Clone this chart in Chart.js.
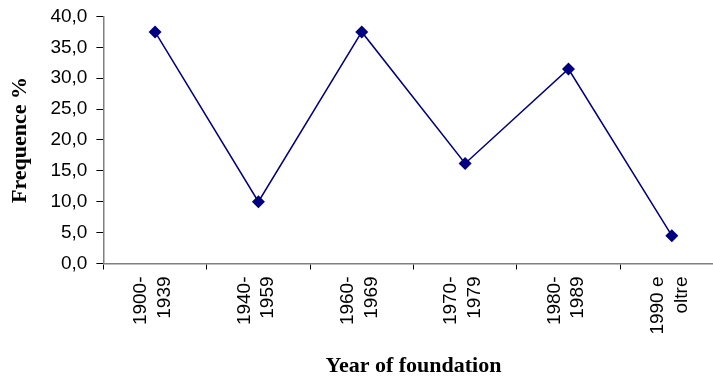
<!DOCTYPE html>
<html>
<head>
<meta charset="utf-8">
<script src="https://cdn.jsdelivr.net/npm/chart.js@4/dist/chart.umd.min.js"></script>
<style>
  html, body { margin: 0; padding: 0; background: #ffffff; overflow: hidden; }
  #wrap { position: relative; width: 730px; height: 380px; margin-top: -2px; }
</style>
</head>
<body>
<div id="wrap"><canvas id="chart"></canvas></div>
<script>
// Founding period of the firms (two-line category labels)
const categories = [
  ['1900-', '1939'],
  ['1940-', '1959'],
  ['1960-', '1969'],
  ['1970-', '1979'],
  ['1980-', '1989'],
  ['1990 e', 'oltre']
];
// Share of firms per period, in percent
const frequencies = [37.5, 10.0, 37.5, 16.2, 31.5, 4.5];
// Value axis range
const yMin = 0;
const yMax = 40;
const yStep = 5;

const axisTitleFont = { family: 'Liberation Serif', size: 22, weight: 'bold' };
const xTickFont = { family: 'Liberation Sans', size: 19, lineHeight: 1.25 };
const yTickFont = { family: 'Liberation Sans', size: 19, lineHeight: 1.0 };

new Chart(document.getElementById('chart'), {
  type: 'line',
  data: {
    labels: categories,
    datasets: [{
      data: frequencies,
      borderColor: '#000080',
      backgroundColor: '#000080',
      borderWidth: 1.5,
      pointStyle: 'rectRot',
      pointRadius: 6.5,
      pointBorderWidth: 0,
      pointBackgroundColor: '#000080',
      tension: 0,
      fill: false
    }]
  },
  options: {
    responsive: true,
    maintainAspectRatio: false,
    animation: false,
    layout: { padding: { top: 0, right: 5, left: 7, bottom: -2 } },
    plugins: {
      legend: { display: false },
      tooltip: { enabled: false }
    },
    scales: {
      x: {
        offset: true,
        grid: {
          display: true,
          drawOnChartArea: false,
          drawTicks: true,
          tickLength: 6,
          tickColor: '#000000',
          offset: true
        },
        border: { display: true, color: '#7f7f7f', width: 1.5 },
        ticks: {
          color: '#000000',
          font: xTickFont,
          minRotation: 90,
          maxRotation: 90,
          padding: 7,
          labelOffset: -14,
          autoSkip: false
        },
        title: {
          display: true,
          text: 'Year of foundation',
          color: '#000000',
          font: axisTitleFont,
          padding: { top: 12, bottom: 0 }
        }
      },
      y: {
        min: yMin,
        max: yMax,
        grid: {
          display: true,
          drawOnChartArea: false,
          drawTicks: true,
          tickLength: 7,
          tickColor: '#000000'
        },
        border: { display: true, color: '#7f7f7f', width: 1.5 },
        ticks: {
          stepSize: yStep,
          color: '#000000',
          font: yTickFont,
          padding: 9,
          callback: (v) => Number(v).toFixed(1).replace('.', ',')
        },
        title: {
          display: true,
          text: 'Frequence %',
          color: '#000000',
          font: axisTitleFont,
          padding: { top: 0, bottom: 8 }
        }
      }
    }
  }
});
</script>
</body>
</html>
